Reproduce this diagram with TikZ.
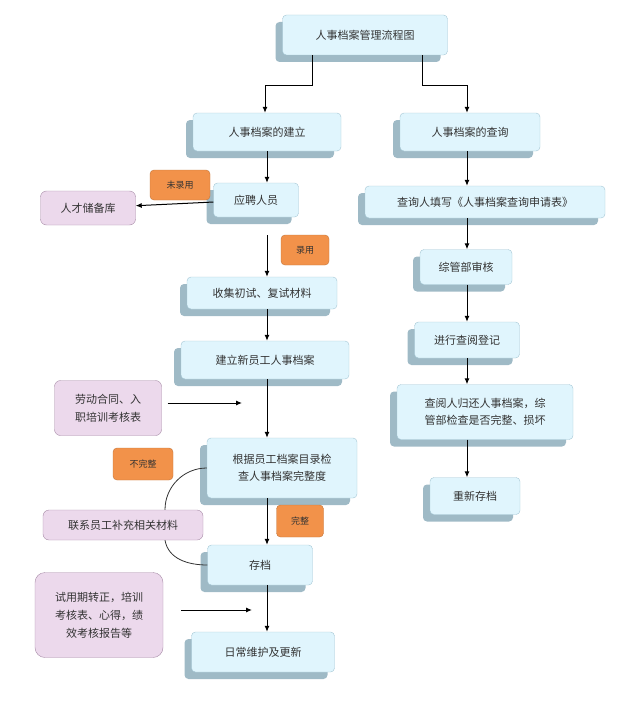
\documentclass[tikz,border=0pt]{standalone}
\usepackage{fontspec}
\setmainfont{Noto Sans CJK SC}
\usetikzlibrary{shadows,arrows.meta}
\definecolor{tagfill}{RGB}{242,146,74}
\tikzset{
  blue box/.style={draw=cyan!40!gray!60, fill=cyan!12, rounded corners=4pt, align=center,
    font=\fontsize{11}{17}\selectfont, text=black!80,
    drop shadow={shadow xshift=-7pt, shadow yshift=-7pt, fill=cyan!30!gray!70, opacity=1}},
  lilac box/.style={draw=violet!30!gray!70, fill=violet!15, rounded corners=6pt, align=center,
    font=\fontsize{11}{18}\selectfont, text=black!80},
  tag/.style={draw=tagfill!80!black, fill=tagfill, rounded corners=4pt,
    font=\fontsize{9}{11}\selectfont, text=black!80},
  arr/.style={-{Latex[length=6pt,width=5pt]}, line width=1pt},
}
\begin{document}
\begin{tikzpicture}[x=1pt,y=-1pt]
	\useasboundingbox (0,0) rectangle (621,725);
	% title and branches
	\node[blue box, minimum width=165, minimum height=40] (title) at (365,35) {人事档案管理流程图};
	\node[blue box, minimum width=148, minimum height=38] (build) at (267,132) {人事档案的建立};
	\node[blue box, minimum width=140, minimum height=38] (query) at (470,132) {人事档案的查询};
	% left column
	\node[blue box, minimum width=85, minimum height=34] (apply) at (256,200) {应聘人员};
	\node[lilac box, minimum width=95, minimum height=34] (pool) at (88,208) {人才储备库};
	\node[tag, minimum width=60, minimum height=30] (nohire) at (180,185) {未录用};
	\node[tag, minimum width=48, minimum height=30] (hire) at (305,250) {录用};
	\node[blue box, minimum width=150, minimum height=32] (collect) at (262,293) {收集初试、复试材料};
	\node[blue box, minimum width=168, minimum height=38] (newfile) at (265,360) {建立新员工人事档案};
	\node[lilac box, minimum width=107, minimum height=55] (contract) at (108,408) {劳动合同、入\\职培训考核表};
	\node[blue box, minimum width=150, minimum height=60] (check) at (282,468) {根据员工档案目录检\\查人事档案完整度};
	\node[tag, minimum width=60, minimum height=32] (incomplete) at (143,464) {不完整};
	\node[tag, minimum width=47, minimum height=32] (complete) at (300,521) {完整};
	\node[lilac box, minimum width=160, minimum height=30] (contact) at (123,525) {联系员工补充相关材料};
	\node[blue box, minimum width=105, minimum height=40] (store) at (260,565) {存档};
	\node[lilac box, minimum width=128, minimum height=85, rounded corners=10pt] (trial) at (99,615) {试用期转正，培训\\考核表、心得，绩\\效考核报告等};
	\node[blue box, minimum width=143, minimum height=40] (upkeep) at (263,652) {日常维护及更新};
	% right column
	\node[blue box, minimum width=240, minimum height=32] (form) at (485,202) {查询人填写《人事档案查询申请表》};
	\node[blue box, minimum width=92, minimum height=35] (review) at (466,267) {综管部审核};
	\node[blue box, minimum width=105, minimum height=36] (log) at (467,340) {进行查阅登记};
	\node[blue box, minimum width=176, minimum height=55] (return) at (485,412) {查阅人归还人事档案，综\\管部检查是否完整、损坏};
	\node[blue box, minimum width=90, minimum height=37] (restore) at (475,496) {重新存档};
	\coordinate (ca) at (242,403);
	\coordinate (cb) at (252,610);
	% connectors
	\draw[arr] (title.south -| 312,0) |- (265,85) -- (build.north -| 265,0);
	\draw[arr] (title.south -| 422,0) |- (467,85) -- (query.north -| 467,0);
	\draw[arr] (build.south -| 267,0) -- (apply.north -| 267,0);
	\draw[arr] (apply) -- (pool);
	\draw[arr] (267,235) -- (collect.north -| 267,0);
	\draw[arr] (collect.south -| 267,0) -- (newfile.north -| 267,0);
	\draw[arr] (newfile.south -| 267,0) -- (check.north -| 267,0);
	\draw[arr] (contract.east) ++(6,-5) -- (ca);
	\draw[arr] (check.south -| 267,0) -- (store.north -| 267,0);
	\draw[arr] (store.south -| 267,0) -- (upkeep.north -| 267,0);
	\draw[arr] (trial.east) ++(18,-5) -- (cb);
	\draw[thick, black!80] (check.west) to[out=180,in=90] (contact.north -| 165,0);
	\draw[thick, black!80] (contact.south -| 165,0) to[out=-80,in=180] (store.west);
	\draw[arr] (query.south -| 467,0) -- (form.north -| 467,0);
	\draw[arr] (form.south -| 467,0) -- (review.north -| 467,0);
	\draw[arr] (review.south -| 467,0) -- (log.north -| 467,0);
	\draw[arr] (log.south -| 467,0) -- (return.north -| 467,0);
	\draw[arr] (return.south -| 467,0) -- (restore.north -| 467,0);
\end{tikzpicture}
\end{document}
